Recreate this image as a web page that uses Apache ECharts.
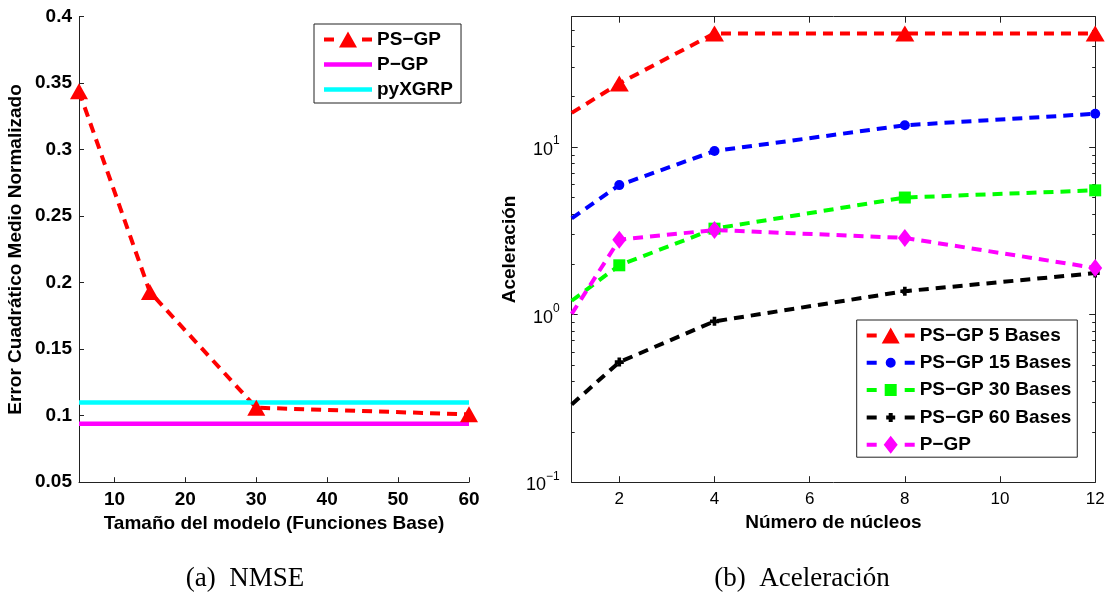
<!DOCTYPE html>
<html>
<head>
<meta charset="utf-8">
<title>NMSE / Aceleración</title>
<style>
  html, body { margin: 0; padding: 0; background: #fff; }
  #main { width: 1108px; height: 596px; }
</style>
</head>
<body>
<div id="main"></div>
<script src="https://cdn.jsdelivr.net/npm/echarts@6/dist/echarts.min.js"></script>
<script type="text/javascript">
    // (a) NMSE vs tamaño del modelo
    var nmseX = [5, 15, 30, 60];
    var nmsePSGP = [0.344, 0.193, 0.106, 0.101];
    var nmsePGP = 0.094;
    var nmsePyXGRP = 0.110;
    var nmseTicks = [10, 20, 30, 40, 50, 60];

    // (b) Aceleración vs número de núcleos
    var nucleos = [1, 2, 4, 8, 12];
    var acel5 = [16.0, 24.0, 47.7, 47.7, 47.7];
    var acel15 = [3.75, 5.93, 9.47, 13.5, 15.8];
    var acel30 = [1.21, 1.97, 3.26, 5.0, 5.52];
    var acel60 = [0.291, 0.521, 0.912, 1.38, 1.77];
    var acelPGP = [1.01, 2.8, 3.2, 2.87, 1.90];
    var nucleosTicks = [2, 4, 6, 8, 10, 12];
    var logMajor = [0.1, 1, 10];
    var logMinor = [0.2, 0.3, 0.4, 0.5, 0.6, 0.7, 0.8, 0.9, 2, 3, 4, 5, 6, 7, 8, 9, 20, 30, 40, 50];

    var SANS = 'Liberation Sans, Arial, Helvetica, sans-serif';
    var AXC = '#222';
    var DASH = [10, 7];

    // legend icons in the MATLAB style: short dash, marker, short dash
    var DASHES = 'M0,7H10V11H0Z M38,7H48V11H38Z ';
    var ICON = {
        tri: 'path://' + DASHES + 'M15,17L24,1L33,17Z',
        circ: 'path://' + DASHES + 'M19,9A5,5,0,1,1,29,9A5,5,0,1,1,19,9Z',
        sq: 'path://' + DASHES + 'M18,3H30V15H18Z',
        plus: 'path://' + DASHES + 'M22,4.5H26V7H28.5V11H26V13.5H22V11H19.5V7H22Z',
        dia: 'path://' + DASHES + 'M24,0L31,9L24,18L17,9Z',
        solid: 'path://M0,0H48V4.5H0Z'
    };

    function pairs(xs, ys) {
        return xs.map(function (x, i) { return [x, ys[i]]; });
    }
    // first point (x=1) carries no marker in the original
    function speedData(ys) {
        return nucleos.map(function (x, i) {
            return i === 0 ? {value: [x, ys[i]], symbolSize: 0} : [x, ys[i]];
        });
    }

    var chart = echarts.init(document.getElementById('main'));

    var boldText = {fontFamily: SANS, fontWeight: 'bold', fontSize: 19, color: '#000'};

    function logAxis(pos, opts) {
        return Object.assign({
            type: 'log', logBase: 10, gridIndex: 1, position: pos,
            min: 0.1, max: 60,
            axisLine: {show: true, lineStyle: {color: AXC, width: 1}},
            axisTick: {show: true, inside: true, length: 6, customValues: logMajor, lineStyle: {color: AXC}},
            axisLabel: {show: false},
            splitLine: {show: false}
        }, opts || {});
    }

    chart.setOption({
        animation: false,
        grid: [
            {left: 79, top: 16.7, width: 390, height: 465.5},
            {left: 571.7, top: 16.7, width: 523.5, height: 465.5}
        ],
        legend: [
            {
                data: [
                    {name: 'PS−GP', icon: ICON.tri},
                    {name: 'P−GP', icon: ICON.solid},
                    {name: 'pyXGRP', icon: ICON.solid}
                ],
                orient: 'vertical', left: 314, top: 24,
                padding: [6, 8, 4, 10],
                itemWidth: 48, itemHeight: 18, itemGap: 6,
                backgroundColor: '#fff', borderColor: AXC, borderWidth: 1, borderRadius: 0,
                textStyle: Object.assign({lineHeight: 18}, boldText),
                selectedMode: false
            },
            {
                data: [
                    {name: 'PS−GP 5 Bases', icon: ICON.tri},
                    {name: 'PS−GP 15 Bases', icon: ICON.circ},
                    {name: 'PS−GP 30 Bases', icon: ICON.sq},
                    {name: 'PS−GP 60 Bases', icon: ICON.plus},
                    {name: 'P−GP (b)', icon: ICON.dia}
                ],
                formatter: function (n) { return n.replace(' (b)', ''); },
                orient: 'vertical', left: 856.7, top: 320,
                padding: [6, 6, 3, 10],
                itemWidth: 48, itemHeight: 18, itemGap: 8.3,
                backgroundColor: '#fff', borderColor: AXC, borderWidth: 1, borderRadius: 0,
                textStyle: Object.assign({lineHeight: 18}, boldText),
                selectedMode: false
            }
        ],
        xAxis: [
            {
                type: 'value', gridIndex: 0, min: 5, max: 60,
                name: 'Tamaño del modelo (Funciones Base)', nameLocation: 'middle', nameGap: 28,
                nameTextStyle: boldText,
                axisLine: {lineStyle: {color: AXC, width: 1}},
                axisTick: {inside: true, length: 5, customValues: nmseTicks, lineStyle: {color: AXC}},
                axisLabel: Object.assign({customValues: nmseTicks, margin: 8}, boldText),
                splitLine: {show: false}
            },
            {
                type: 'value', gridIndex: 1, min: 1, max: 12,
                name: 'Número de núcleos', nameLocation: 'middle', nameGap: 28,
                nameTextStyle: boldText,
                axisLine: {lineStyle: {color: AXC, width: 1}},
                axisTick: {inside: true, length: 6, customValues: nucleosTicks, lineStyle: {color: AXC}},
                axisLabel: {customValues: nucleosTicks, margin: 9, fontFamily: SANS, fontSize: 17, color: '#000'},
                splitLine: {show: false}
            },
            {
                type: 'value', gridIndex: 1, min: 1, max: 12, position: 'top',
                axisLine: {show: true, lineStyle: {color: AXC, width: 1}},
                axisTick: {show: true, inside: true, length: 6, customValues: nucleosTicks, lineStyle: {color: AXC}},
                axisLabel: {show: false},
                splitLine: {show: false}
            }
        ],
        yAxis: [
            {
                type: 'value', gridIndex: 0, min: 0.05, max: 0.4, interval: 0.05,
                name: 'Error Cuadrático Medio Normalizado', nameLocation: 'middle', nameGap: 54,
                nameTextStyle: boldText,
                axisLine: {show: true, lineStyle: {color: AXC, width: 1}},
                axisTick: {show: true, inside: true, length: 5, lineStyle: {color: AXC}},
                axisLabel: Object.assign({margin: 7}, boldText),
                splitLine: {show: false}
            },
            logAxis('left', {
                name: 'Aceleración', nameLocation: 'middle', nameGap: 52,
                nameTextStyle: boldText,
                axisLabel: {
                    show: true, customValues: logMajor, margin: 12,
                    formatter: function (v) {
                        var e = Math.round(Math.log(v) / Math.LN10);
                        return '{b|10}{s|' + String(e).replace('-', '−') + '}';
                    },
                    rich: {
                        b: {fontFamily: SANS, fontSize: 18, lineHeight: 24, color: '#000', verticalAlign: 'bottom'},
                        s: {fontFamily: SANS, fontSize: 12, lineHeight: 14, color: '#000', verticalAlign: 'top'}
                    }
                }
            }),
            logAxis('right'),
            logAxis('left', {axisLine: {show: false}, axisTick: {show: true, inside: true, length: 3, customValues: logMinor, lineStyle: {color: AXC}}}),
            logAxis('right', {axisLine: {show: false}, axisTick: {show: true, inside: true, length: 3, customValues: logMinor, lineStyle: {color: AXC}}})
        ],
        series: [
            {
                name: 'PS−GP', type: 'line', xAxisIndex: 0, yAxisIndex: 0, clip: false,
                data: pairs(nmseX, nmsePSGP),
                symbol: 'triangle', symbolSize: [18, 16],
                lineStyle: {color: '#ff0000', width: 4, type: DASH},
                itemStyle: {color: '#ff0000'}, z: 3
            },
            {
                name: 'P−GP', type: 'line', xAxisIndex: 0, yAxisIndex: 0, clip: false,
                data: [[nmseX[0], nmsePGP], [nmseX[nmseX.length - 1], nmsePGP]],
                symbol: 'none',
                lineStyle: {color: '#ff00ff', width: 4.5},
                itemStyle: {color: '#ff00ff'}
            },
            {
                name: 'pyXGRP', type: 'line', xAxisIndex: 0, yAxisIndex: 0, clip: false,
                data: [[nmseX[0], nmsePyXGRP], [nmseX[nmseX.length - 1], nmsePyXGRP]],
                symbol: 'none',
                lineStyle: {color: '#00ffff', width: 4.5},
                itemStyle: {color: '#00ffff'}
            },
            {
                name: 'PS−GP 5 Bases', type: 'line', xAxisIndex: 1, yAxisIndex: 1, clip: false,
                data: speedData(acel5),
                symbol: 'triangle', symbolSize: [19, 16],
                lineStyle: {color: '#ff0000', width: 4, type: DASH},
                itemStyle: {color: '#ff0000'}
            },
            {
                name: 'PS−GP 15 Bases', type: 'line', xAxisIndex: 1, yAxisIndex: 1, clip: false,
                data: speedData(acel15),
                symbol: 'circle', symbolSize: 10,
                lineStyle: {color: '#0000ff', width: 4, type: DASH},
                itemStyle: {color: '#0000ff'}
            },
            {
                name: 'PS−GP 30 Bases', type: 'line', xAxisIndex: 1, yAxisIndex: 1, clip: false,
                data: speedData(acel30),
                symbol: 'rect', symbolSize: 12,
                lineStyle: {color: '#00ff00', width: 4, type: DASH},
                itemStyle: {color: '#00ff00'}
            },
            {
                name: 'PS−GP 60 Bases', type: 'line', xAxisIndex: 1, yAxisIndex: 1, clip: false,
                data: speedData(acel60),
                symbol: 'path://M3,0H7V3H10V7H7V10H3V7H0V3H3Z', symbolSize: 9,
                lineStyle: {color: '#000000', width: 4, type: DASH},
                itemStyle: {color: '#000000'}
            },
            {
                name: 'P−GP (b)', type: 'line', xAxisIndex: 1, yAxisIndex: 1, clip: false,
                data: speedData(acelPGP),
                symbol: 'diamond', symbolSize: [14, 18],
                lineStyle: {color: '#ff00ff', width: 4, type: DASH},
                itemStyle: {color: '#ff00ff'}
            }
        ],
        graphic: [
            {type: 'text', x: 245, y: 579, style: {text: '(a)  NMSE', textAlign: 'center', textVerticalAlign: 'middle', fontFamily: 'Liberation Serif, serif', fontSize: 27, fill: '#000'}},
            {type: 'text', x: 802, y: 579, style: {text: '(b)  Aceleración', textAlign: 'center', textVerticalAlign: 'middle', fontFamily: 'Liberation Serif, serif', fontSize: 27, fill: '#000'}}
        ]
    });
</script>
</body>
</html>
